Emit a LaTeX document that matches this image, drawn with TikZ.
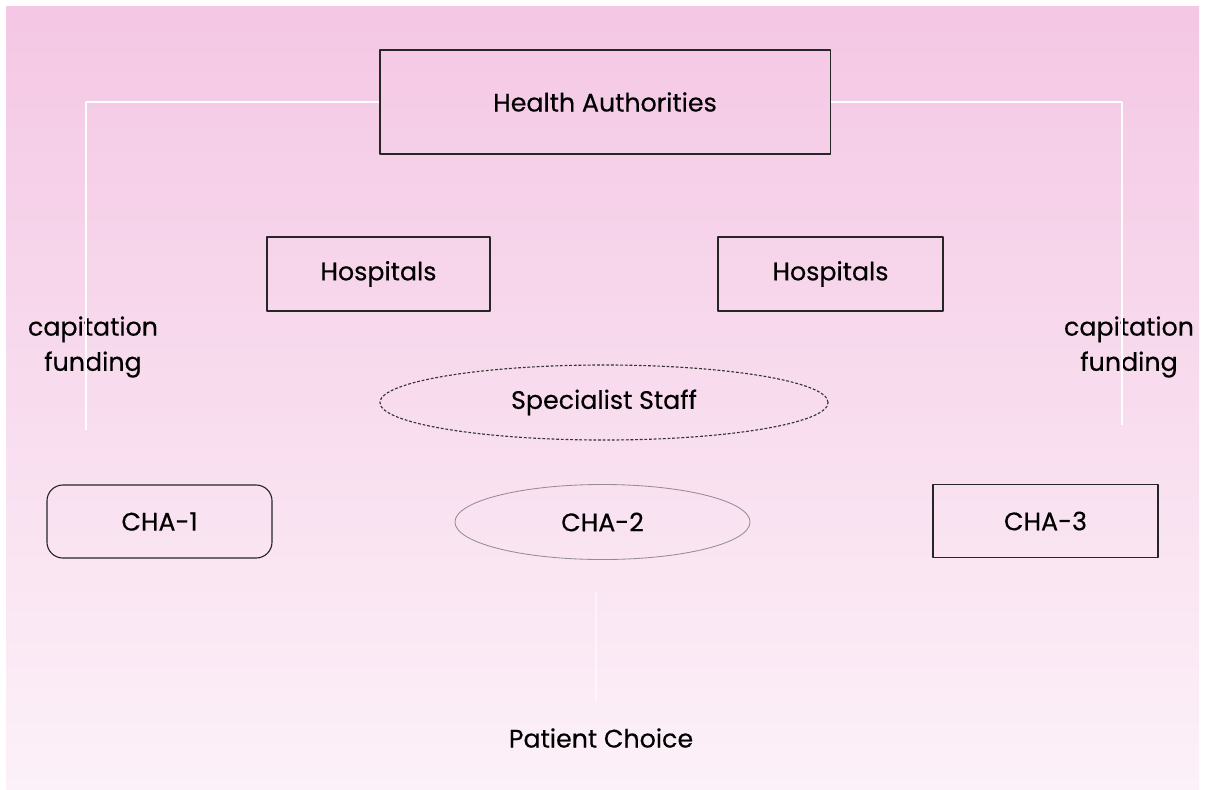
\documentclass[tikz,border=0pt]{standalone}
\usepackage{fontspec}
\setmainfont{Poppins}[FakeBold=0.35]
\usetikzlibrary{shapes.geometric}
\definecolor{pinktop}{RGB}{244,199,228}
\definecolor{pinkbot}{RGB}{252,241,248}
\definecolor{ringgray}{RGB}{150,140,148}
\begin{document}
\begin{tikzpicture}[x = 0.025cm,y = -0.025cm,line join = round,
  every node/.style = {font = \fontsize{18}{25}\selectfont, text = black},
  ruled/.style = {draw = black!85, line width = 0.8pt, inner sep = 0pt},
  feed/.style = {draw = white, line width = 1.5pt}]
	%Nền hồng 
	\fill[white] (0,0) rectangle (1207,789);
	\useasboundingbox (0,0) rectangle (1207,789);
	\shade[top color = pinktop, bottom color = pinkbot] (6,6) rectangle (1199,789);
	%Các hộp 
	\node[ruled, minimum width = 11.25cm, minimum height = 2.6cm] (ha) at (605,102) {Health Authorities};
	\node[ruled, minimum width = 5.575cm, minimum height = 1.85cm] (hospl) at (378.5,274) {Hospitals};
	\node[ruled, minimum width = 5.625cm, minimum height = 1.85cm] (hospr) at (830.5,274) {Hospitals};
	\node[ruled, ellipse, draw = black!80, line width = 0.8pt, dash pattern = on 2pt off 1.3pt, minimum width = 11.2cm, minimum height = 1.875cm] (staff) at (604,402.5) {Specialist Staff};
	\node[ruled, rounded corners = 0.4cm, minimum width = 5.625cm, minimum height = 1.825cm] (chaa) at (159.5,521.5) {CHA-1};
	\node[ruled, ellipse, draw = ringgray, line width = 0.6pt, minimum width = 7.375cm, minimum height = 1.875cm] (chab) at (602.5,522) {CHA-2};
	\node[ruled, minimum width = 5.625cm, minimum height = 1.825cm] (chac) at (1045.5,521) {CHA-3};
	%Nhãn 
	\node[align = center] (capl) at (93,347) {capitation\\funding};
	\node[align = center] (capr) at (1129,347) {capitation\\funding};
	\node (choice) at (601,738) {Patient Choice};
	%Đường trắng 
	\coordinate (fl) at (86,430);
	\coordinate (fr) at (1122,425);
	\coordinate (cs) at (596,592);
	\coordinate (ce) at (596,700);
	\draw[feed] (ha.west) -| (fl);
	\draw[feed] (ha.east) -| (fr);
	\draw[feed, opacity = 0.5] (cs) -- (ce);
\end{tikzpicture}
\end{document}
